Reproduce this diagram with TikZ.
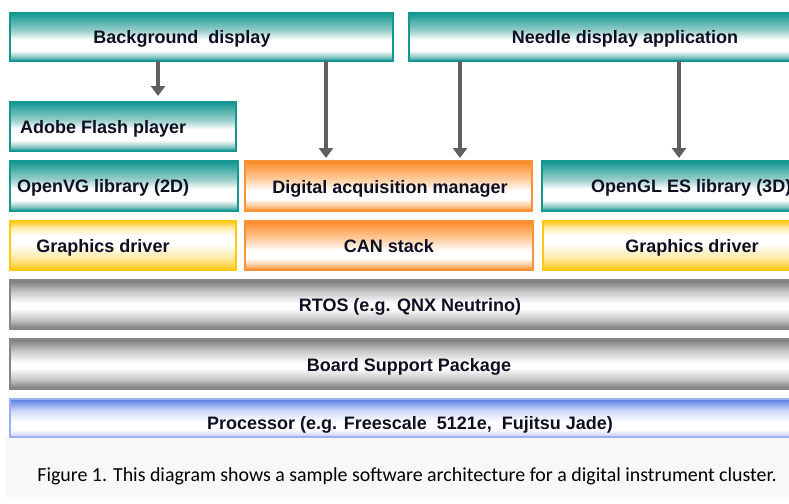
\documentclass[tikz,border=0pt]{standalone}
\usepackage{fontspec}
\setmainfont{Liberation Sans}
\newfontfamily\capfont{Carlito}
\usetikzlibrary{arrows.meta,calc}

% colours of the layer boxes
\definecolor{tealE}{RGB}{20,150,145}
\definecolor{tealL}{RGB}{150,205,200}
\definecolor{orangeE}{RGB}{250,135,30}
\definecolor{orangeL}{RGB}{255,200,150}
\definecolor{yellowE}{RGB}{255,200,20}
\definecolor{yellowL}{RGB}{255,235,170}
\definecolor{greyE}{RGB}{120,120,120}
\definecolor{greyL}{RGB}{200,200,200}
\definecolor{blueE}{RGB}{85,125,225}
\definecolor{blueB}{RGB}{195,200,240}
\definecolor{arrowgrey}{RGB}{95,95,95}
\definecolor{inkcol}{RGB}{15,15,35}
\definecolor{panel}{RGB}{249,247,249}

% vertical fills: 25bp is the bottom edge of a box, 75bp its top edge
\pgfdeclareverticalshading{tealfill}{100bp}{color(0bp)=(tealE); color(25bp)=(tealE); color(30bp)=(tealL); color(36bp)=(white); color(47bp)=(white); color(57bp)=(tealL); color(70bp)=(tealE!85!white); color(75bp)=(tealE); color(100bp)=(tealE)}
\pgfdeclareverticalshading{orangefill}{100bp}{color(0bp)=(orangeE); color(25bp)=(orangeE); color(30bp)=(orangeL); color(37bp)=(white); color(45bp)=(white); color(58bp)=(orangeL); color(71bp)=(orangeE!85!white); color(75bp)=(orangeE); color(100bp)=(orangeE)}
\pgfdeclareverticalshading{yellowfill}{100bp}{color(0bp)=(yellowE); color(25bp)=(yellowE); color(38bp)=(yellowL); color(52bp)=(white); color(60bp)=(white); color(68bp)=(yellowL); color(75bp)=(yellowE); color(100bp)=(yellowE)}
\pgfdeclareverticalshading{greyfill}{100bp}{color(0bp)=(greyE); color(25bp)=(greyE); color(35bp)=(greyL); color(46bp)=(white); color(51bp)=(white); color(63bp)=(greyL); color(75bp)=(greyE); color(100bp)=(greyE)}
\pgfdeclareverticalshading{bluefill}{100bp}{color(0bp)=(blueB); color(25bp)=(blueB); color(35bp)=(white); color(45bp)=(white); color(60bp)=(blueE!30!white); color(75bp)=(blueE); color(100bp)=(blueE)}

\tikzset{
  layer/.style={rectangle, inner sep=0pt, outer sep=0pt, anchor=north west, line width=1.3pt},
  tealbox/.style={layer, draw=tealE, shading=tealfill},
  orangebox/.style={layer, draw=orangeE!90, shading=orangefill},
  yellowbox/.style={layer, draw=yellowE, shading=yellowfill},
  greybox/.style={layer, draw=greyE!90, shading=greyfill},
  bluebox/.style={layer, draw=blueE!60, shading=bluefill},
  lbl/.style={anchor=base, inner sep=0pt, text=inkcol, font=\fontsize{18}{21}\selectfont\bfseries},
  lbll/.style={lbl, anchor=base west},
  arr/.style={draw=arrowgrey, line width=4pt, -{Triangle[width=14pt,length=10pt]}},
}

\begin{document}
\begin{tikzpicture}[x=1pt,y=-1pt]
\useasboundingbox (0,0) rectangle (789,503);
\clip (0,0) rectangle (789,503);
\fill[white] (0,0) rectangle (789,503);
\fill[panel] (6,437) rectangle (789,497);

% application layer
\node[tealbox, minimum width=383, minimum height=48] (bg) at (10,13) {};
\node[tealbox, minimum width=400, minimum height=48] (needle) at (409,13) {};
\node[tealbox, minimum width=226, minimum height=49] (flash) at (10,102) {};

% libraries and managers
\node[tealbox, minimum width=228, minimum height=50] (openvg) at (10,161) {};
\node[orangebox, minimum width=287, minimum height=50] (dam) at (245,161) {};
\node[tealbox, minimum width=260, minimum height=50] (opengl) at (542,161) {};

% drivers
\node[yellowbox, minimum width=226, minimum height=49] (gdl) at (10,221) {};
\node[orangebox, minimum width=288, minimum height=49] (can) at (245,221) {};
\node[yellowbox, minimum width=260, minimum height=49] (gdr) at (543,221) {};

% system layers
\node[greybox, minimum width=800, minimum height=49] (rtos) at (10,280) {};
\node[greybox, minimum width=800, minimum height=50] (bsp) at (10,339) {};
\node[bluebox, minimum width=800, minimum height=38] (cpu) at (10,399) {};

% labels
\node[lbl] (tbg) at (182,43.5) {Background\ \ display};
\node[lbl] (tneedle) at (625,43.5) {Needle display application};
\node[lbll] (tflash) at (20,133) {Adobe Flash player};
\node[lbll] (topenvg) at (17,192.5) {OpenVG library (2D)};
\node[lbl] (tdam) at (390,193.5) {Digital acquisition manager};
\node[lbll] (topengl) at (591,192.5) {OpenGL ES library (3D)};
\node[lbl] (tgdl) at (103,252) {Graphics driver};
\node[lbl] (tcan) at (389,252) {CAN stack};
\node[lbl] (tgdr) at (692,252) {Graphics driver};
\node[lbl] (trtos) at (410,311) {RTOS (e.g. QNX Neutrino)};
\node[lbl] (tbsp) at (409,371) {Board Support Package};
\node[lbl] (tcpu) at (410,429) {Processor (e.g. Freescale\ \ 5121e,\ \ Fujitsu Jade)};

% caption
\node[anchor=base, inner sep=0pt, text=black, font=\capfont\fontsize{19.9}{23}\selectfont] (caption) at (407,481) {Figure 1. This diagram shows a sample software architecture for a digital instrument cluster.};

% arrows between layers
\coordinate (c1) at (158,0);
\coordinate (c2) at (326,0);
\coordinate (c3) at (460,0);
\coordinate (c4) at (679,0);
\draw[arr, shorten >=6pt] (bg.south -| c1) -- (flash.north -| c1);
\draw[arr, shorten >=3pt] (bg.south -| c2) -- (dam.north -| c2);
\draw[arr, shorten >=3pt] (needle.south -| c3) -- (dam.north -| c3);
\draw[arr, shorten >=3pt] (needle.south -| c4) -- (opengl.north -| c4);
\end{tikzpicture}
\end{document}
